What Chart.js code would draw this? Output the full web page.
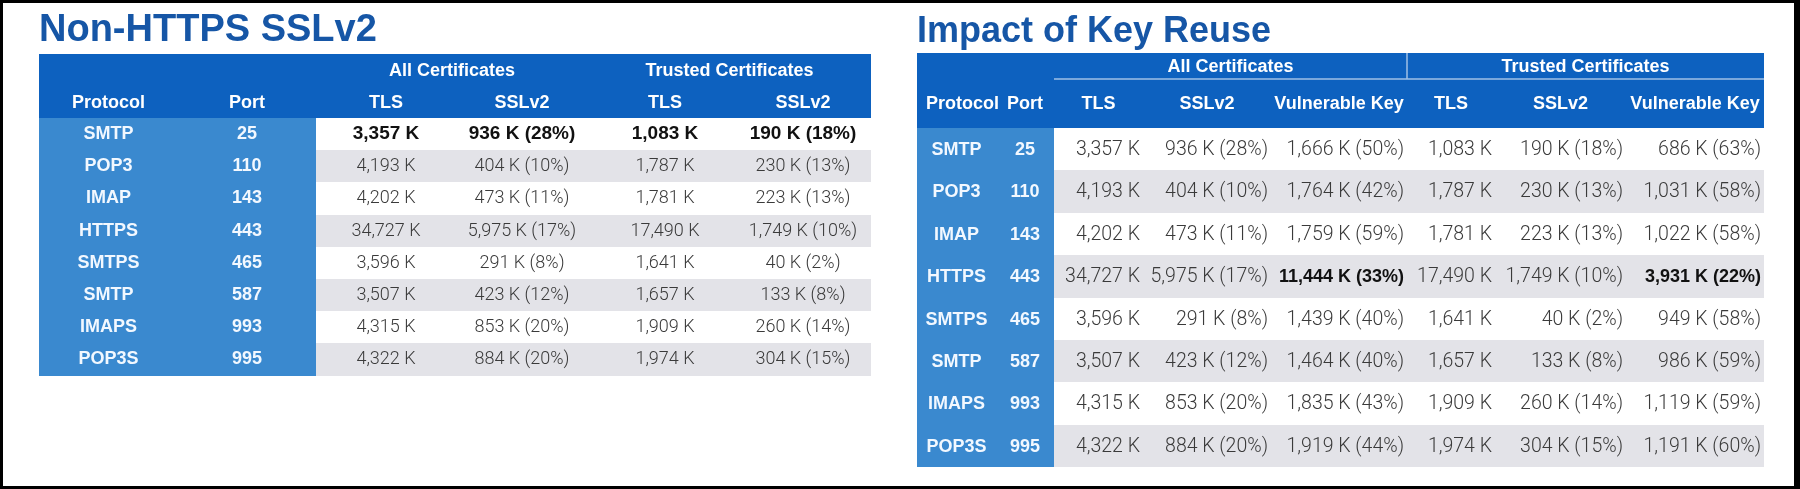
<!DOCTYPE html>
<html>
<head>
<meta charset="utf-8">
<script src="https://cdn.jsdelivr.net/npm/chart.js@4.4.0/dist/chart.umd.min.js"></script>
<style>
    html, body { margin: 0; padding: 0; background: #000; }
    #frame { position: absolute; left: 3px; top: 3px; width: 1791px; height: 483px; background: #fff; }
    canvas { position: absolute; top: 0; }
    #left-table { left: 0; }
    #right-table { left: 900px; }
</style>
</head>
<body>
<div id="frame"></div>
<canvas id="left-table" width="900" height="489"></canvas>
<canvas id="right-table" width="900" height="489"></canvas>
<script>
// table data
const protocols = ['SMTP', 'POP3', 'IMAP', 'HTTPS', 'SMTPS', 'SMTP', 'IMAPS', 'POP3S'];
const ports = ['25', '110', '143', '443', '465', '587', '993', '995'];
const allTls = [3357, 4193, 4202, 34727, 3596, 3507, 4315, 4322];
const allSsl = [936, 404, 473, 5975, 291, 423, 853, 884];
const allSslPct = [28, 10, 11, 17, 8, 12, 20, 20];
const allVuln = [1666, 1764, 1759, 11444, 1439, 1464, 1835, 1919];
const allVulnPct = [50, 42, 59, 33, 40, 40, 43, 44];
const trustedTls = [1083, 1787, 1781, 17490, 1641, 1657, 1909, 1974];
const trustedSsl = [190, 230, 223, 1749, 40, 133, 260, 304];
const trustedSslPct = [18, 13, 13, 10, 2, 8, 14, 15];
const trustedVuln = [686, 1031, 1022, 3931, 949, 986, 1119, 1191];
const trustedVulnPct = [63, 58, 58, 22, 58, 59, 59, 60];

const groupLabels = ['All Certificates', 'Trusted Certificates'];
const leftColumns = ['Protocol', 'Port', 'TLS', 'SSLv2', 'TLS', 'SSLv2'];
const rightColumns = ['Protocol', 'Port', 'TLS', 'SSLv2', 'Vulnerable Key', 'TLS', 'SSLv2', 'Vulnerable Key'];

// colours
const TITLE_BLUE = '#1656a6';
const HEADER_BLUE = '#0d61bf';
const KEY_BLUE = '#3a89cf';
const ROW_GRAY = '#e3e3e8';
const KEY_TEXT = '#f2f8ff';

const fmtK = v => v.toLocaleString('en-US') + ' K';
const fmtPct = (v, p) => fmtK(v) + ' (' + p + '%)';

const leftRows = protocols.map((p, i) => [
    p, ports[i],
    fmtK(allTls[i]), fmtPct(allSsl[i], allSslPct[i]),
    fmtK(trustedTls[i]), fmtPct(trustedSsl[i], trustedSslPct[i])
]);
const rightRows = protocols.map((p, i) => [
    p, ports[i],
    fmtK(allTls[i]), fmtPct(allSsl[i], allSslPct[i]), fmtPct(allVuln[i], allVulnPct[i]),
    fmtK(trustedTls[i]), fmtPct(trustedSsl[i], trustedSslPct[i]), fmtPct(trustedVuln[i], trustedVulnPct[i])
]);

const sum = a => a.reduce((s, v) => s + v, 0);
const edges = a => a.reduce((e, v) => { e.push(e[e.length - 1] + v); return e; }, [0]);

// draws the cells through the chart's x/y scales
const tablePlugin = {
    id: 'table',
    afterDatasetsDraw(chart, args, opts) {
        const ctx = chart.ctx;
        const xs = chart.scales.x, ys = chart.scales.y;
        const ce = edges(opts.colWidths), re = edges(opts.rowHeights);
        const px = i => Math.round(xs.getPixelForValue(ce[i]));
        const py = i => Math.round(ys.getPixelForValue(re[i]));
        const nCols = opts.colWidths.length;
        ctx.save();

        // header band
        ctx.fillStyle = HEADER_BLUE;
        ctx.fillRect(px(0), py(0), px(nCols) - px(0), py(2) - py(0));

        // body rows
        opts.rows.forEach((row, r) => {
            const y0 = py(r + 2), y1 = py(r + 3);
            ctx.fillStyle = KEY_BLUE;
            ctx.fillRect(px(0), y0, px(2) - px(0), y1 - y0);
            ctx.fillStyle = r % 2 ? ROW_GRAY : '#ffffff';
            ctx.fillRect(px(2), y0, px(nCols) - px(2), y1 - y0);
        });

        // group separator lines
        if (opts.groupLines) {
            ctx.strokeStyle = 'rgba(255,255,255,0.6)';
            ctx.lineWidth = 1.5;
            ctx.beginPath();
            ctx.moveTo(px(opts.groups[0][0]), py(1));
            ctx.lineTo(px(nCols), py(1));
            ctx.moveTo(px(opts.groups[1][0]), py(0));
            ctx.lineTo(px(opts.groups[1][0]), py(1));
            ctx.stroke();
        }

        ctx.textBaseline = 'middle';
        ctx.textAlign = 'center';
        ctx.fillStyle = '#ffffff';
        ctx.font = 'bold 18px "Liberation Sans", Arial, sans-serif';
        opts.groups.forEach((g, i) => {
            ctx.fillText(groupLabels[i], (px(g[0]) + px(g[1])) / 2, (py(0) + py(1)) / 2 + opts.groupDy);
        });
        opts.columns.forEach((c, i) => {
            ctx.fillText(c, (px(i) + px(i + 1)) / 2 + (opts.headerDx[i] || 0), (py(1) + py(2)) / 2 + opts.headerDy);
        });

        opts.rows.forEach((row, r) => {
            const yc = (py(r + 2) + py(r + 3)) / 2 + opts.textDy;
            row.forEach((txt, c) => {
                if (c < 2) {
                    ctx.fillStyle = KEY_TEXT;
                    ctx.textAlign = 'center';
                    ctx.font = 'bold 18px "Liberation Sans", Arial, sans-serif';
                    ctx.fillText(txt, (px(c) + px(c + 1)) / 2, yc);
                    return;
                }
                const bold = opts.isBold(r, c);
                ctx.fillStyle = bold ? '#111111' : '#3a3a3a';
                ctx.font = bold ? opts.boldFont : opts.lightFont;
                if (opts.dataAlign === 'right') {
                    ctx.textAlign = 'right';
                    ctx.fillText(txt, px(c + 1) - opts.rightPad, yc);
                } else {
                    ctx.textAlign = 'center';
                    ctx.fillText(txt, (px(c) + px(c + 1)) / 2, yc);
                }
            });
        });
        ctx.restore();
    }
};

function makeTable(canvasId, title, titleSize, titlePadTop, padding, spec) {
    return new Chart(document.getElementById(canvasId), {
        type: 'scatter',
        data: { datasets: [{ data: [] }] },
        plugins: [tablePlugin],
        options: {
            responsive: false,
            animation: false,
            devicePixelRatio: 1,
            layout: { padding: padding },
            scales: {
                x: { type: 'linear', display: false, min: 0, max: sum(spec.colWidths) },
                y: { type: 'linear', display: false, min: 0, max: sum(spec.rowHeights), reverse: true }
            },
            plugins: {
                legend: { display: false },
                tooltip: { enabled: false },
                title: {
                    display: true,
                    text: title,
                    align: 'start',
                    color: TITLE_BLUE,
                    font: { family: '"Liberation Sans", Arial, sans-serif', size: titleSize, weight: 'bold' },
                    padding: { top: titlePadTop, bottom: 0 }
                },
                table: spec
            }
        }
    });
}

makeTable('left-table', 'Non-HTTPS SSLv2', 38, 7.9, { left: 39, right: 29, top: 0, bottom: 113.3 }, {
    colWidths: [139, 138, 140, 132, 154, 122, 7],
    rowHeights: [32.2, 32.2, 32.25, 32.25, 32.25, 32.25, 32.25, 32.25, 32.25, 32.25],
    columns: leftColumns,
    groups: [[2, 4], [4, 7]],
    groupLines: false,
    rows: leftRows,
    isBold: (r, c) => r === 0,
    dataAlign: 'center',
    rightPad: 0,
    lightFont: '300 18px Roboto, "Liberation Sans", sans-serif',
    boldFont: 'bold 19px "Liberation Sans", Arial, sans-serif',
    headerDx: {},
    groupDy: 1, headerDy: 1, textDy: 0
});

makeTable('right-table', 'Impact of Key Reuse', 36, 10.1, { left: 17, right: 36, top: 0, bottom: 21.7 }, {
    colWidths: [79, 58, 89, 128, 136, 88, 131, 138],
    rowHeights: [25.7, 48.7, 42.45, 42.45, 42.45, 42.45, 42.45, 42.45, 42.45, 42.45],
    columns: rightColumns,
    groups: [[2, 5], [5, 8]],
    groupLines: true,
    rows: rightRows,
    isBold: (r, c) => r === 3 && (c === 4 || c === 7),
    dataAlign: 'right',
    rightPad: 3,
    lightFont: '300 19.5px Roboto, "Liberation Sans", sans-serif',
    boldFont: 'bold 18px "Liberation Sans", Arial, sans-serif',
    headerDx: { 0: 6 },
    groupDy: 1, headerDy: 1, textDy: 1
});
</script>
</body>
</html>
